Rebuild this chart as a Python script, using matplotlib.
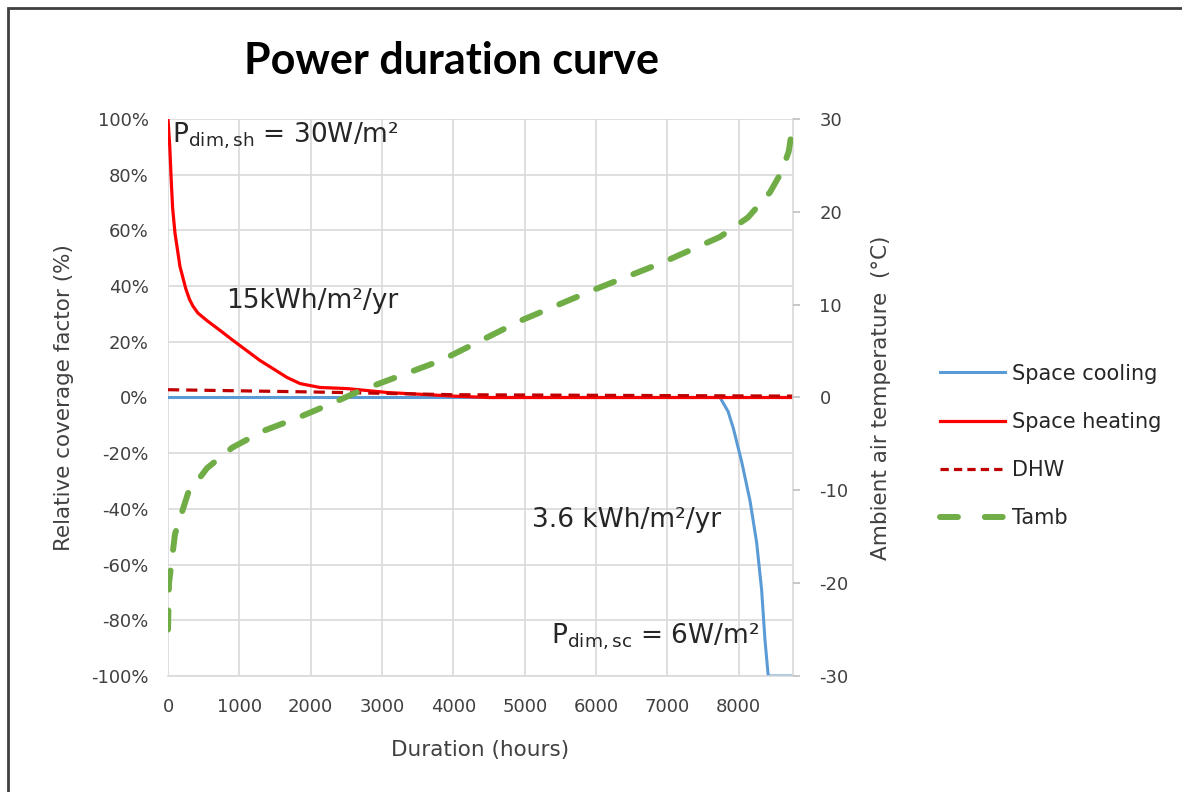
import matplotlib
matplotlib.use("Agg")
import matplotlib.pyplot as plt
from matplotlib.lines import Line2D
from matplotlib.patches import Rectangle

plt.rcParams['font.family'] = ['DejaVu Sans']
plt.rcParams['axes.unicode_minus'] = False
plt.rcParams['mathtext.fontset'] = 'custom'
plt.rcParams['mathtext.rm'] = 'DejaVu Sans'

# ---- data ----
sh_hours = [0, 25, 45, 65, 98, 168, 250, 300, 350, 420, 547, 729, 911, 1289, 1668, 1850, 2130, 2509, 3069, 3500, 4000, 4500, 8760]
sh_vals = [100, 90, 78, 68, 59, 47, 39, 35.3, 32.8, 30.3, 27.6, 24.1, 20.5, 13.3, 7.2, 5.0, 3.6, 3.2, 1.8, 1.2, 0.5, 0, 0]

dhw_hours = [0, 2000, 4000, 8760]
dhw_vals = [2.8, 2.0, 1.0, 0.5]

sc_hours = [0, 7737, 7850, 7923, 8040, 8157, 8250, 8320, 8367, 8413, 8760]
sc_vals = [0, 0, -5, -11, -23, -37, -52, -69, -87, -100, -100]

t_hours = [0, 14, 98, 281, 548, 900, 1336, 1814, 2278, 2700, 3830, 4950, 5935, 6920, 7737, 8130, 8437, 8600, 8700, 8740, 8760]
t_vals = [-25, -20, -14.7, -10.3, -7.6, -5.4, -3.6, -2.2, -0.7, 0.75, 4, 8.3, 11.5, 14.5, 17.3, 19.4, 22.1, 24.3, 26.5, 28.5, 30]

x_ticks = [0, 1000, 2000, 3000, 4000, 5000, 6000, 7000, 8000]
y_ticks = [-100, -80, -60, -40, -20, 0, 20, 40, 60, 80, 100]
y2_ticks = [-30, -20, -10, 0, 10, 20, 30]

fig = plt.figure(figsize=(11.82, 7.92), dpi=100)
ax = fig.add_axes([168/1182, 1 - 676/792, (793-168)/1182, (676-119)/792])

grid_c = '#D9D9D9'
lab_c = '#404040'
ax.set_xlim(0, 8760)
ax.set_ylim(-100, 100)
ax.set_xticks(x_ticks)
ax.set_yticks(y_ticks)
ax.set_yticklabels([f"{v}%" for v in y_ticks])
ax.grid(True, color=grid_c, lw=1.2)
ax.set_axisbelow(True)
for s in ['top', 'left']:
    ax.spines[s].set_visible(False)
ax.spines['bottom'].set_color(grid_c)
ax.spines['right'].set_color(grid_c)
ax.spines['bottom'].set_linewidth(1.2)
ax.spines['right'].set_linewidth(1.2)
ax.tick_params(axis='y', length=0, labelsize=13, colors=lab_c, pad=14)
ax.tick_params(axis='x', length=0, labelsize=13, colors=lab_c, pad=16)

sc_line = dict(color='#5B9BD5', lw=2.2)
sh_line = dict(color='#FF0000', lw=2.3)
dhw_line = dict(color='#C00000', lw=2.3, ls=(0, (3.5, 2.2)))

ax.plot(sc_hours, sc_vals, **sc_line)
ax.plot(sh_hours, sh_vals, **sh_line)
ax.plot(dhw_hours, dhw_vals, **dhw_line)

ax2 = ax.twinx()
ax2.set_ylim(-30, 30)
ax2.set_yticks(y2_ticks)
for s in ['top', 'right', 'left', 'bottom']:
    ax2.spines[s].set_visible(False)
ax2.tick_params(axis='y', length=5, width=1.2, color='#BFBFBF', labelsize=13, labelcolor=lab_c, pad=14)
ax2.plot(t_hours, t_vals, color='#70AD47', lw=4.3, ls=(0, (3.2, 3.5)), dash_capstyle='round')

ax.set_xlabel('Duration (hours)', fontsize=15.5, color=lab_c, labelpad=17)
ax.set_ylabel('Relative coverage factor (%)', fontsize=15.5, color=lab_c, labelpad=12)
ax2.set_ylabel('Ambient air temperature  (°C)', fontsize=15.5, color=lab_c, labelpad=16)

fig.text(451/1182, 1 - 61/792, 'Power duration curve', fontsize=31, fontweight='bold',
         family='Lato', ha='center', va='center', color='black')

tc = '#262626'
ax.text(60, 93.8, r'P$_{\mathrm{dim,sh}}$ = 30W/m²', fontsize=19, color=tc, ha='left', va='center')
ax.text(2018, 34.8, '15kWh/m²/yr', fontsize=19, color=tc, ha='center', va='center')
ax.text(6433, -44, '3.6 kWh/m²/yr', fontsize=19, color=tc, ha='center', va='center')
ax.text(6826, -86, r'P$_{\mathrm{dim,sc}}$ = 6W/m²', fontsize=19, color=tc, ha='center', va='center')

handles = [Line2D([], [], **sc_line),
           Line2D([], [], **sh_line),
           Line2D([], [], color='#C00000', lw=2.3, ls=(0, (2.6, 1.6))),
           Line2D([], [], color='#70AD47', lw=4.3, ls=(0, (3.0, 4.5)), dash_capstyle='round')]
labels = ['Space cooling', 'Space heating', 'DHW', 'Tamb']
fig.legend(handles, labels, loc='center left', bbox_to_anchor=(940/1182, 1 - 446/792),
           frameon=False, fontsize=15, handlelength=3.1, labelspacing=1.36, handletextpad=0.35,
           borderpad=0, borderaxespad=0, labelcolor='#262626')

fig.patches.append(Rectangle((8/1182, -0.1), 1.2, 1 - 8/792 + 0.1, transform=fig.transFigure,
                             fill=False, edgecolor='#404040', lw=2))

fig.savefig('out.png', dpi=100)
